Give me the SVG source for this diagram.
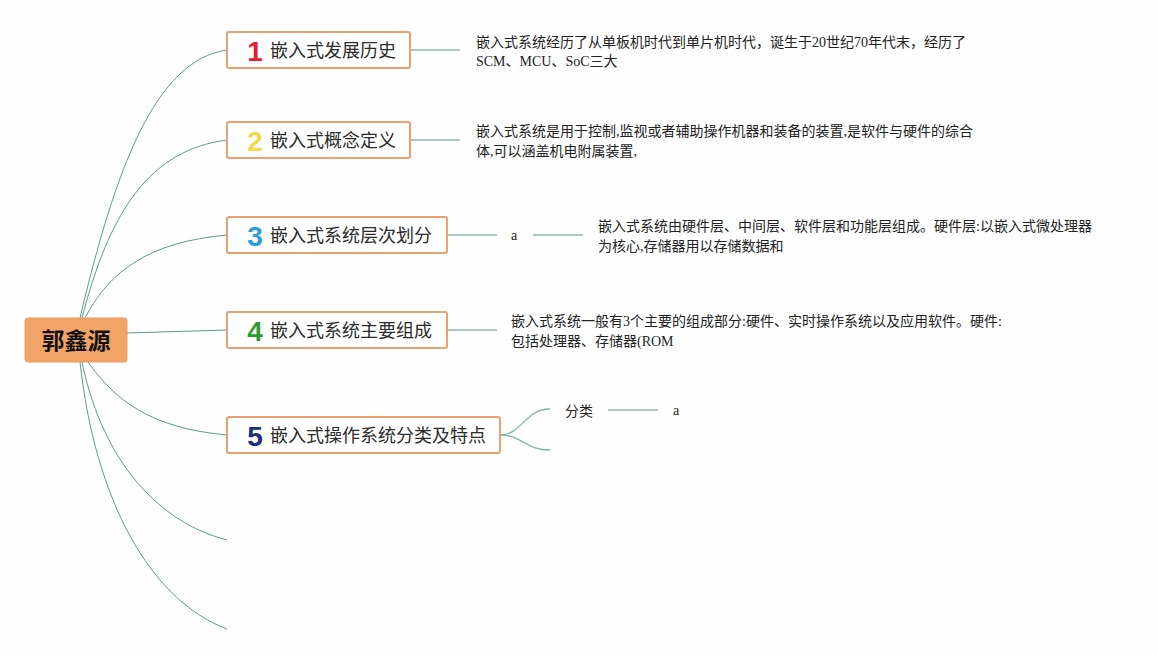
<svg xmlns="http://www.w3.org/2000/svg" width="1158" height="655" viewBox="0 0 1158 655">
<style>
.bg{fill:#fefefe}
.root{fill:#F2A467;stroke:#EE9A5E;stroke-width:1}
.roott{font-family:"Noto Sans CJK SC",sans-serif;font-size:23px;font-weight:bold;fill:#111;text-anchor:middle}
.box{fill:#fff;stroke:#E9A26E;stroke-width:2}
.num{font-family:"Liberation Sans","DejaVu Sans",sans-serif;font-size:28px;font-weight:900;text-anchor:middle}
.lbl{font-family:"Noto Sans CJK SC",sans-serif;font-size:18px;fill:#2b2b2b}
.desc{font-family:"Liberation Serif","Noto Sans CJK SC",serif;font-size:14px;fill:#222}
.sm{font-family:"Liberation Serif","Noto Sans CJK SC",serif;font-size:14px;fill:#222}
.main{fill:none;stroke:#5E9C8E;stroke-width:1}
.sub{fill:none;stroke:#A7C9C1;stroke-width:2}
.br{fill:none;stroke:#82B5A8;stroke-width:1.3}
</style>
<rect class="bg" x="0" y="0" width="1158" height="655"/>
<g id="connectors">
<path class="main" d="M80,318 C115,170 155,60 227,50"/>
<path class="main" d="M82,318 C110,210 150,150 227,140"/>
<path class="main" d="M85,318 C110,270 150,242 227,235"/>
<path class="main" d="M127,333 L227,330"/>
<path class="main" d="M88,362 C115,400 150,428 227,435"/>
<path class="main" d="M82,362 C100,450 150,520 227,540"/>
<path class="main" d="M80,362 C95,500 150,600 227,629"/>
<path class="sub" d="M410,50 L460,50"/>
<path class="sub" d="M410,140 L460,140"/>
<path class="sub" d="M447,235 L497,235"/>
<path class="sub" d="M533,235 L583,235"/>
<path class="sub" d="M447,330 L497,330"/>
<path class="br" d="M500,435 C522,435 525,409 550,409"/>
<path class="br" d="M500,435 C522,435 525,450 550,450"/>
<path class="sub" d="M608,410 L658,410"/>
</g>
<g id="root">
<rect class="root" x="25" y="318" width="102" height="44" rx="3"/>
<text class="roott" x="76" y="349">郭鑫源</text>
</g>
<g id="node1">
<rect class="box" x="227" y="32" width="183" height="36" rx="2"/>
<text class="num" x="255" y="61" fill="#E3203A">1</text>
<text class="lbl" x="270" y="57">嵌入式发展历史</text>
</g>
<g id="node2">
<rect class="box" x="227" y="122" width="183" height="36" rx="2"/>
<text class="num" x="255" y="151" fill="#F5D846">2</text>
<text class="lbl" x="270" y="147">嵌入式概念定义</text>
</g>
<g id="node3">
<rect class="box" x="227" y="217" width="220" height="36" rx="2"/>
<text class="num" x="255" y="246" fill="#2A9BDC">3</text>
<text class="lbl" x="270" y="242">嵌入式系统层次划分</text>
</g>
<g id="node4">
<rect class="box" x="227" y="312" width="220" height="36" rx="2"/>
<text class="num" x="255" y="341" fill="#2E9E34">4</text>
<text class="lbl" x="270" y="337">嵌入式系统主要组成</text>
</g>
<g id="node5">
<rect class="box" x="227" y="417" width="273" height="36" rx="2"/>
<text class="num" x="255" y="446" fill="#1E2A7E">5</text>
<text class="lbl" x="270" y="442">嵌入式操作系统分类及特点</text>
</g>
<g id="desc1">
<text class="desc" x="476" y="47">嵌入式系统经历了从单板机时代到单片机时代，诞生于20世纪70年代末，经历了</text>
<text class="desc" x="476" y="66">SCM、MCU、SoC三大</text>
</g>
<g id="desc2">
<text class="desc" x="476" y="136">嵌入式系统是用于控制,监视或者辅助操作机器和装备的装置,是软件与硬件的综合</text>
<text class="desc" x="476" y="156">体,可以涵盖机电附属装置,</text>
</g>
<g id="a3">
<text class="sm" x="511" y="240">a</text>
</g>
<g id="desc3">
<text class="desc" x="598" y="231">嵌入式系统由硬件层、中间层、软件层和功能层组成。硬件层:以嵌入式微处理器</text>
<text class="desc" x="598" y="251">为核心,存储器用以存储数据和</text>
</g>
<g id="desc4">
<text class="desc" x="511" y="326">嵌入式系统一般有3个主要的组成部分:硬件、实时操作系统以及应用软件。硬件:</text>
<text class="desc" x="511" y="346">包括处理器、存储器(ROM</text>
</g>
<g id="fenlei">
<text class="desc" x="565" y="416">分类</text>
</g>
<g id="a5">
<text class="sm" x="673" y="415">a</text>
</g>
</svg>
